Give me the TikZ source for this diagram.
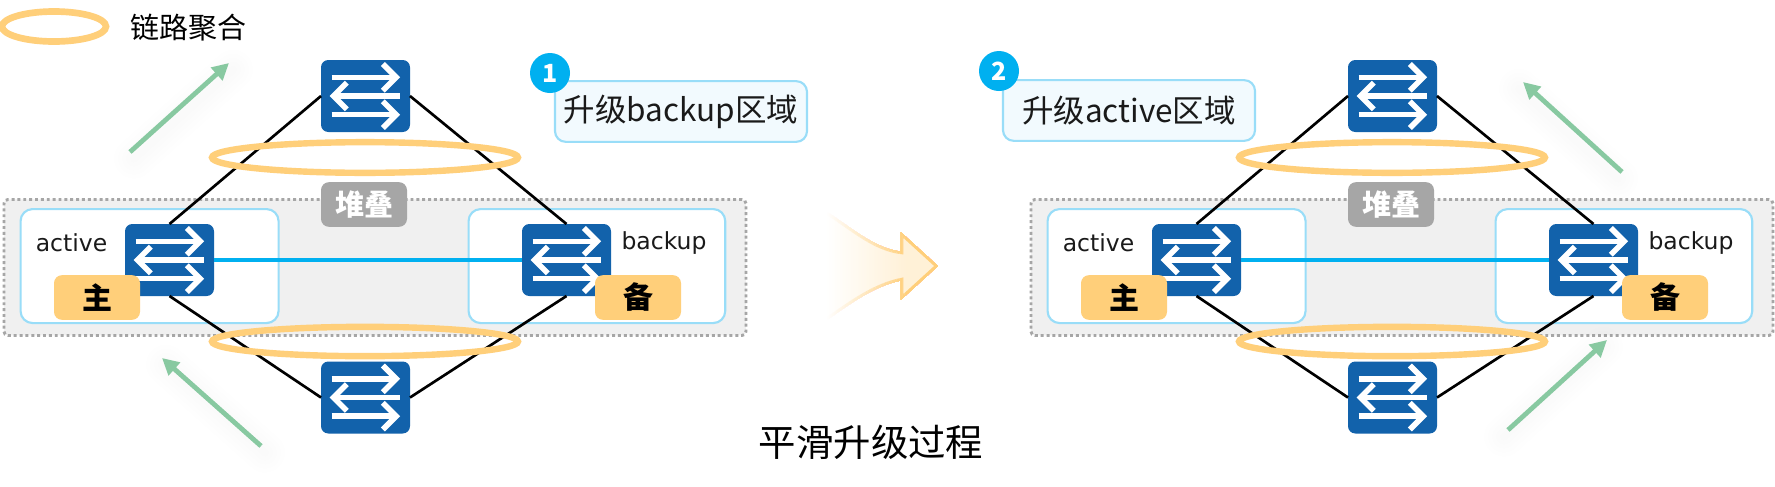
\documentclass[tikz,border=0pt]{standalone}
\usepackage{fontspec}
\setmainfont{Noto Sans CJK SC}
\newfontfamily\latinlab{DejaVu Sans}
\usetikzlibrary{shapes.geometric,arrows.meta}
\definecolor{swblue}{HTML}{1262AB}
\definecolor{lineblue}{HTML}{00B0F0}
\definecolor{paleblue}{HTML}{99DDF8}
\definecolor{stepfill}{HTML}{F2FAFE}
\definecolor{ringorange}{HTML}{FFCF7A}
\definecolor{flowgreen}{HTML}{88C9A1}
\definecolor{stackgray}{HTML}{A6A6A6}
\definecolor{stackfill}{HTML}{F0F0F0}
\definecolor{inktext}{HTML}{1A1A1A}
\def\pxs#1{\fontsize{\dimexpr#1pt*3/4\relax}{\dimexpr#1pt\relax}\selectfont}
\tikzset{
  switchbox/.style={fill=swblue,rounded corners=5.5pt,minimum width=66.75pt,minimum height=54pt,inner sep=0pt,outer sep=0pt},
  swarrow/.style={draw=white,line width=4.2pt,line cap=butt,miter limit=10},
  linkring/.style={ellipse,draw=ringorange,line width=4.8pt,inner sep=0pt,outer sep=0pt},
  palebox/.style={draw=paleblue,line width=1.6pt,fill=white,rounded corners=9pt,inner sep=0pt},
  stackbox/.style={draw=stackgray,fill=stackfill,line width=2.2pt,dash pattern=on 2.2pt off 2.2pt,rounded corners=3pt,inner sep=0pt},
  stacktag/.style={fill=stackgray,text=white,rounded corners=6pt,minimum width=64.5pt,minimum height=33.5pt,inner sep=0pt,font=\pxs{29}\bfseries},
  roletag/.style={fill=ringorange,text=black,rounded corners=6pt,minimum width=64.5pt,minimum height=33.5pt,inner sep=0pt,font=\pxs{30}\bfseries},
  steptag/.style={draw=paleblue,line width=1.6pt,fill=stepfill,rounded corners=8pt,minimum width=189pt,minimum height=45.5pt,inner sep=0pt,text=inktext,font=\pxs{31.5}},
  stepdot/.style={circle,fill=lineblue,minimum size=30pt,inner sep=0pt,text=white,font=\pxs{25}\bfseries},
  rolelabel/.style={inner sep=0pt,text=inktext,font=\latinlab\pxs{23.5}},
  blackline/.style={draw=black,line width=2pt},
  bluelink/.style={draw=lineblue,line width=2.6pt},
  flowarrow/.style={draw=flowgreen,line width=3.6pt,-{Triangle[length=12.5pt,width=12.5pt]}},
  flowshadow/.style={draw=black,opacity=0.004,line cap=round},
}
% one switch: white arrows drawn relative to its named node
\newcommand{\swicon}[1]{%
  \foreach \yy in {-14,14}{
    \draw[swarrow] ([xshift=-25.5pt,yshift=\yy pt]#1.center) -- ([xshift=22pt,yshift=\yy pt]#1.center);
    \draw[swarrow] ([xshift=13pt,yshift=\yy pt+10pt]#1.center) -- ([xshift=23pt,yshift=\yy pt]#1.center) -- ([xshift=13pt,yshift=\yy pt-10pt]#1.center);
  }
  \draw[swarrow] ([xshift=25.5pt]#1.center) -- ([xshift=-22pt]#1.center);
  \draw[swarrow] ([xshift=-14pt,yshift=10pt]#1.center) -- ([xshift=-24pt]#1.center) -- ([xshift=-14pt,yshift=-10pt]#1.center);
}
% one flow arrow with a faint soft shadow
\newcommand{\flow}[6]{%
  \coordinate (#1s) at (#2,#3);
  \coordinate (#1e) at (#4,#5);
  \foreach \w in {6,12,18,24,30}{
    \draw[flowshadow,line width=\w pt] ([xshift=#6pt,yshift=-5pt]#1s) -- ([xshift=#6pt,yshift=-5pt]#1e);
  }
  \draw[flowarrow] (#1s) -- (#1e);
}
% one half of the figure
\newcommand{\half}[2]{%
 \begin{scope}[xshift=#2*0.75pt]
  \node[stackbox,minimum width=556.5pt,minimum height=102pt,anchor=north west] (#1stack) at (2.5,198) {};
  \node[palebox,minimum width=193.5pt,minimum height=85.5pt,anchor=north west] (#1lbox) at (19.5,208) {};
  \node[palebox,minimum width=192.5pt,minimum height=85.5pt,anchor=north west] (#1rbox) at (467.5,208) {};
  \node[switchbox] (#1top) at (365.5,96) {};
  \node[switchbox] (#1bot) at (365.5,397.5) {};
  \node[switchbox] (#1lsw) at (169.5,260) {};
  \node[switchbox] (#1rsw) at (566.5,260) {};
  \draw[blackline] (#1top.west) -- (#1lsw.north);
  \draw[blackline] (#1top.east) -- (#1rsw.north);
  \draw[blackline] (#1bot.west) -- (#1lsw.south);
  \draw[blackline] (#1bot.east) -- (#1rsw.south);
  \draw[bluelink] (#1lsw.east) -- (#1rsw.west);
  \swicon{#1top}\swicon{#1bot}\swicon{#1lsw}\swicon{#1rsw}
  \node[linkring,minimum width=229.5pt,minimum height=23pt] (#1ringa) at (365,157.5) {};
  \node[linkring,minimum width=229.5pt,minimum height=22pt] (#1ringb) at (365,341.5) {};
  \node[stacktag] (#1tag) at (364,204.5) {堆叠};
  \node[rolelabel] (#1act) at (71.5,243) {active};
  \node[rolelabel] (#1bak) at (664,243) {backup};
  \node[roletag] (#1main) at (97,297.5) {主};
  \node[roletag] (#1back) at (638,297.5) {备};
 \end{scope}
}
\begin{document}
\begin{tikzpicture}[x=0.75pt,y=-0.75pt]
\useasboundingbox (0,0) rectangle (1775,486);
\fill[white] (0,0) rectangle (1775,486);
\half{a}{0}
\half{b}{1027}
% legend
\node[linkring,minimum width=78pt,minimum height=22.5pt,line width=5pt] (legring) at (54,26.5) {};
\node[inner sep=0pt,text=black,font=\pxs{29}] (legtext) at (188,28) {链路聚合};
% flow arrows
\flow{fa}{130}{152}{229}{63}{3}
\flow{fb}{261}{446}{162}{358}{3}
\flow{fc}{1622}{172}{1523}{82}{-3}
\flow{fd}{1508}{430}{1607}{340}{-3}
% step labels
\node[steptag] (s1) at (681,111.5) {升级backup区域};
\node[stepdot] (d1) at (550,73) {1};
\node[steptag] (s2) at (1129,110.5) {升级active区域};
\node[stepdot] (d2) at (999,71) {2};
% big process arrow
\foreach \t in {0,2,...,100}{
  \begin{scope}
    \clip ({826+\t*0.8},190) rectangle (945,340);
    \draw[draw=ringorange!\t!white,fill=ringorange!30!white!\t!white,line width=1.9pt,line join=miter]
      (825,212) .. controls (855,232) and (875,250) .. (902,253)
      -- (902,235) -- (936,266) -- (902,297) -- (902,279)
      .. controls (875,284) and (850,302) .. (825,320) -- cycle;
  \end{scope}
}
% title
\node[inner sep=0pt,text=black,font=\pxs{37.4}] (title) at (871,442) {平滑升级过程};
\end{tikzpicture}
\end{document}
